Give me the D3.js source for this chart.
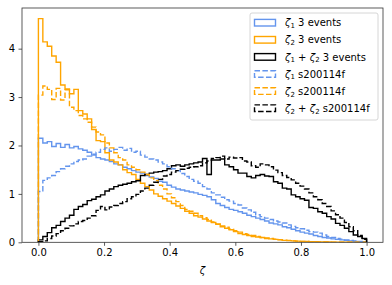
<!DOCTYPE html>
<html>
<head>
<meta charset="utf-8">
<script src="https://cdn.jsdelivr.net/npm/d3@7"></script>
<style>
  body { margin: 0; background: #fff; }
  svg text { font-family: "DejaVu Sans", sans-serif; }
</style>
</head>
<body>
<svg width="392" height="285"></svg>
<script>
// histogram densities, 74 bins on [0, 1]
var nBins = 74;

var zeta1Events = [2.15, 2.05, 2.08, 1.98, 2.04, 1.96, 2.02, 1.95, 1.98, 1.93,
  1.90, 1.86, 1.80, 1.75, 1.72, 1.70, 1.67, 1.62, 1.60, 1.55,
  1.52, 1.48, 1.45, 1.43, 1.38, 1.35, 1.32, 1.26, 1.24, 1.18,
  1.14, 1.10, 1.08, 1.06, 1.04, 1.02, 0.99, 0.97, 0.94, 0.88,
  0.80, 0.76, 0.72, 0.68, 0.66, 0.63, 0.60, 0.56, 0.53, 0.50,
  0.47, 0.44, 0.40, 0.38, 0.36, 0.32, 0.30, 0.27, 0.24, 0.21,
  0.19, 0.17, 0.14, 0.12, 0.10, 0.09, 0.07, 0.06, 0.05, 0.04,
  0.03, 0.02, 0.012, 0.005];

var zeta2Events = [4.62, 4.14, 4.05, 3.85, 3.72, 3.25, 3.17, 3.07, 3.16, 2.72,
  2.65, 2.55, 2.33, 2.10, 2.08, 1.85, 1.70, 1.66, 1.60, 1.50,
  1.44, 1.40, 1.30, 1.22, 1.15, 1.08, 1.00, 0.95, 0.90, 0.85,
  0.80, 0.75, 0.70, 0.64, 0.60, 0.55, 0.52, 0.48, 0.44, 0.41,
  0.37, 0.32, 0.29, 0.26, 0.22, 0.18, 0.16, 0.14, 0.12, 0.11,
  0.10, 0.08, 0.07, 0.06, 0.05, 0.04, 0.035, 0.03, 0.025, 0.02,
  0.015, 0.012, 0.01, 0.008, 0.006, 0.005, 0.004, 0.003, 0.002, 0.002,
  0.001, 0.001, 0.0005, 0];

var sumEvents = [0.05, 0.12, 0.20, 0.30, 0.35, 0.43, 0.50, 0.56, 0.68, 0.74,
  0.78, 0.86, 0.89, 0.94, 0.98, 1.06, 1.10, 1.15, 1.18, 1.20,
  1.22, 1.25, 1.27, 1.38, 1.40, 1.43, 1.45, 1.46, 1.48, 1.52,
  1.58, 1.60, 1.57, 1.60, 1.62, 1.64, 1.66, 1.73, 1.40, 1.70,
  1.70, 1.72, 1.60, 1.56, 1.50, 1.43, 1.43, 1.36, 1.33, 1.38,
  1.40, 1.37, 1.36, 1.25, 1.22, 1.12, 1.10, 0.98, 0.94, 0.90,
  0.87, 0.72, 0.70, 0.63, 0.60, 0.53, 0.48, 0.39, 0.35, 0.29,
  0.22, 0.15, 0.12, 0.08];

var zeta1S200114f = [1.05, 1.28, 1.33, 1.38, 1.46, 1.52, 1.57, 1.62, 1.67, 1.70,
  1.72, 1.78, 1.82, 1.86, 1.92, 1.95, 1.88, 1.92, 1.96, 1.90,
  1.94, 1.86, 1.88, 1.80, 1.76, 1.72, 1.70, 1.66, 1.62, 1.56,
  1.52, 1.48, 1.42, 1.36, 1.30, 1.26, 1.22, 1.15, 1.10, 1.02,
  0.98, 0.93, 0.88, 0.85, 0.80, 0.77, 0.71, 0.67, 0.62, 0.57,
  0.53, 0.50, 0.47, 0.44, 0.42, 0.40, 0.36, 0.33, 0.30, 0.28,
  0.25, 0.22, 0.21, 0.19, 0.15, 0.12, 0.10, 0.08, 0.065, 0.05,
  0.04, 0.03, 0.02, 0.01];

var zeta2S200114f = [3.04, 3.23, 3.16, 2.95, 3.18, 2.94, 3.15, 2.79, 2.72, 2.62,
  2.55, 2.48, 2.38, 2.28, 2.22, 2.05, 1.95, 1.85, 1.75, 1.70,
  1.60, 1.55, 1.50, 1.45, 1.40, 1.33, 1.28, 1.18, 1.10, 1.00,
  0.92, 0.84, 0.76, 0.68, 0.64, 0.60, 0.55, 0.51, 0.47, 0.42,
  0.38, 0.34, 0.31, 0.27, 0.24, 0.21, 0.18, 0.16, 0.14, 0.12,
  0.10, 0.09, 0.08, 0.065, 0.055, 0.045, 0.04, 0.03, 0.025, 0.02,
  0.015, 0.012, 0.01, 0.008, 0.006, 0.005, 0.004, 0.003, 0.002, 0.002,
  0.001, 0.001, 0.0005, 0];

var sumS200114f = [0.01, 0.03, 0.08, 0.13, 0.18, 0.24, 0.29, 0.34, 0.38, 0.43,
  0.45, 0.50, 0.55, 0.66, 0.74, 0.67, 0.73, 0.76, 0.80, 0.84,
  0.90, 0.94, 0.99, 1.06, 1.12, 1.18, 1.24, 1.30, 1.37, 1.40,
  1.45, 1.48, 1.51, 1.53, 1.55, 1.56, 1.58, 1.64, 1.68, 1.73,
  1.75, 1.78, 1.72, 1.76, 1.74, 1.75, 1.68, 1.66, 1.58, 1.55,
  1.62, 1.60, 1.56, 1.49, 1.44, 1.38, 1.34, 1.29, 1.22, 1.16,
  1.10, 1.02, 0.94, 0.88, 0.80, 0.74, 0.65, 0.57, 0.50, 0.41,
  0.32, 0.24, 0.14, 0.06];

var xTicks = [0, 0.2, 0.4, 0.6, 0.8, 1.0];
var yTicks = [0, 1, 2, 3, 4];

// series: label parts (symbol, subscript), suffix, values, colour, dashed
var series = [
  { lab: [["ζ", "1"]], suffix: "3 events", values: zeta1Events, color: "cornflowerblue", dash: false },
  { lab: [["ζ", "2"]], suffix: "3 events", values: zeta2Events, color: "orange", dash: false },
  { lab: [["ζ", "1"], ["ζ", "2"]], suffix: "3 events", values: sumEvents, color: "black", dash: false },
  { lab: [["ζ", "1"]], suffix: "s200114f", values: zeta1S200114f, color: "cornflowerblue", dash: true },
  { lab: [["ζ", "2"]], suffix: "s200114f", values: zeta2S200114f, color: "orange", dash: true },
  { lab: [["ζ", "2"], ["ζ", "2"]], suffix: "s200114f", values: sumS200114f, color: "black", dash: true }
];

var svg = d3.select("svg"),
    pLeft = 22, pRight = 383, pTop = 8, pBottom = 242.3;

var xScale = d3.scaleLinear().domain([-0.05, 1.05]).range([pLeft, pRight]),
    yScale = d3.scaleLinear().domain([0, 4.84]).range([pBottom, pTop]);

var edges = d3.range(nBins + 1).map(function(i) { return i / nBins; });

var stepLine = d3.line()
    .x(function(d) { return xScale(d[0]); })
    .y(function(d) { return yScale(d[1]); })
    .curve(d3.curveStepAfter);

function stepPoints(vals) {
  var pts = [[edges[0], 0]];
  vals.forEach(function(v, i) { pts.push([edges[i], v]); });
  pts.push([edges[nBins], vals[nBins - 1]]);
  pts.push([edges[nBins], 0]);
  return pts;
}

svg.append("clipPath").attr("id", "clip")
    .append("rect").attr("x", pLeft).attr("y", pTop)
    .attr("width", pRight - pLeft).attr("height", pBottom - pTop);

var lines = svg.append("g").attr("clip-path", "url(#clip)");
series.forEach(function(s) {
  lines.append("path")
      .attr("d", stepLine(stepPoints(s.values)))
      .attr("fill", "none")
      .attr("stroke", s.color)
      .attr("stroke-width", 1.4)
      .attr("stroke-dasharray", s.dash ? "5.5,2.4" : null);
});

// axes
var xAxis = svg.append("g")
    .attr("transform", "translate(0," + pBottom + ")")
    .call(d3.axisBottom(xScale).tickValues(xTicks).tickSize(3.5).tickPadding(3.5)
      .tickFormat(d3.format(".1f")));
var yAxis = svg.append("g")
    .attr("transform", "translate(" + pLeft + ",0)")
    .call(d3.axisLeft(yScale).tickValues(yTicks).tickSize(3.5).tickPadding(3.5)
      .tickFormat(d3.format("d")));

[xAxis, yAxis].forEach(function(a) {
  a.select(".domain").remove();
  a.selectAll("line").attr("stroke", "#333").attr("stroke-width", 0.8);
  a.selectAll("text").attr("font-size", 10).attr("fill", "#000")
    .attr("font-family", "DejaVu Sans");
});

svg.append("rect")
    .attr("x", pLeft).attr("y", pTop)
    .attr("width", pRight - pLeft).attr("height", pBottom - pTop)
    .attr("fill", "none").attr("stroke", "#333").attr("stroke-width", 0.8);

svg.append("text")
    .attr("x", (pLeft + pRight) / 2).attr("y", 274)
    .attr("text-anchor", "middle")
    .attr("font-size", 10).attr("font-style", "italic")
    .text("ζ");

// legend
var leg = svg.append("g");
leg.append("rect")
    .attr("x", 250).attr("y", 13).attr("width", 128).attr("height", 107)
    .attr("rx", 2).attr("fill", "#fff").attr("fill-opacity", 0.8)
    .attr("stroke", "#ccc").attr("stroke-width", 0.8);

series.forEach(function(s, i) {
  var cy = 22.7 + i * 17.1;
  leg.append("rect")
      .attr("x", 254.5).attr("y", cy - 3.3).attr("width", 21).attr("height", 6.6)
      .attr("fill", "none").attr("stroke", s.color).attr("stroke-width", 1.4)
      .attr("stroke-dasharray", s.dash ? "5.5,2.4" : null);
  var t = leg.append("text").attr("x", 285).attr("y", cy + 3.6).attr("font-size", 10)
      .attr("xml:space", "preserve");
  s.lab.forEach(function(p, j) {
    if (j > 0) t.append("tspan").attr("dy", -1.8).text(" + ");
    t.append("tspan").attr("font-style", "italic").attr("dy", j > 0 ? 0 : 0).text(p[0]);
    t.append("tspan").attr("font-size", 7).attr("dy", 1.8).text(p[1]);
  });
  t.append("tspan").attr("dy", -1.8).text(" " + s.suffix);
});
</script>
</body>
</html>
